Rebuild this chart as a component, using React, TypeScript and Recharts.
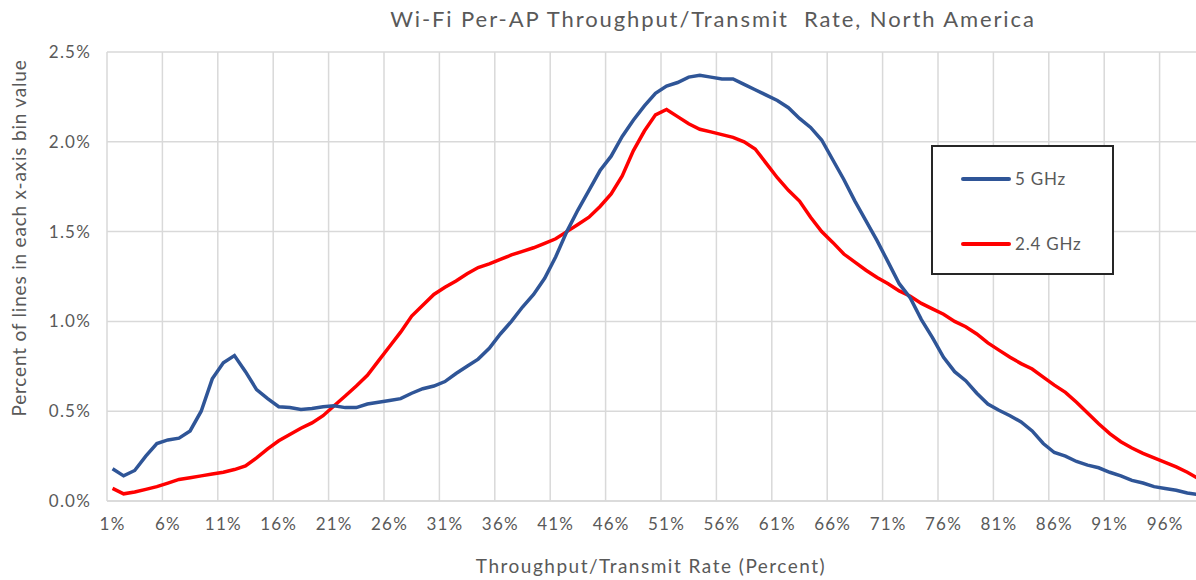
import { LineChart, Line, XAxis, YAxis, CartesianGrid, ReferenceLine } from "recharts";

// throughput/transmit rate bins (percent)
const rates = [
  1, 2, 3, 4, 5, 6, 7, 8, 9, 10, 11, 12, 13, 14, 15, 16, 17, 18, 19, 20,
  21, 22, 23, 24, 25, 26, 27, 28, 29, 30, 31, 32, 33, 34, 35, 36, 37, 38, 39, 40,
  41, 42, 43, 44, 45, 46, 47, 48, 49, 50, 51, 52, 53, 54, 55, 56, 57, 58, 59, 60,
  61, 62, 63, 64, 65, 66, 67, 68, 69, 70, 71, 72, 73, 74, 75, 76, 77, 78, 79, 80,
  81, 82, 83, 84, 85, 86, 87, 88, 89, 90, 91, 92, 93, 94, 95, 96, 97, 98, 99, 100,
];

// percent of lines in each bin
const ghz5 = [
  0.18, 0.14, 0.17, 0.25, 0.32, 0.34, 0.35, 0.39, 0.5, 0.68,
  0.77, 0.81, 0.72, 0.62, 0.57, 0.525, 0.52, 0.51, 0.515, 0.525,
  0.53, 0.52, 0.52, 0.54, 0.55, 0.56, 0.57, 0.6, 0.625, 0.64,
  0.665, 0.71, 0.75, 0.79, 0.85, 0.93, 1.0, 1.08, 1.15, 1.24,
  1.36, 1.5, 1.62, 1.73, 1.84, 1.92, 2.03, 2.12, 2.2, 2.27,
  2.31, 2.33, 2.36, 2.37, 2.36, 2.35, 2.35, 2.32, 2.29, 2.26,
  2.23, 2.19, 2.13, 2.08, 2.01, 1.9, 1.79, 1.67, 1.56, 1.45,
  1.33, 1.21, 1.13, 1.01, 0.91, 0.8, 0.72, 0.67, 0.6, 0.54,
  0.505, 0.475, 0.44, 0.39, 0.32, 0.27, 0.25, 0.22, 0.2, 0.185,
  0.16, 0.14, 0.115, 0.1, 0.08, 0.07, 0.06, 0.045, 0.035, 0.03,
];

const ghz24 = [
  0.07, 0.04, 0.05, 0.065, 0.08, 0.1, 0.12, 0.13, 0.14, 0.15,
  0.16, 0.175, 0.195, 0.24, 0.29, 0.335, 0.37, 0.405, 0.435, 0.475,
  0.53, 0.585, 0.64, 0.7, 0.78, 0.86, 0.94, 1.03, 1.09, 1.15,
  1.19, 1.225, 1.265, 1.3, 1.32, 1.345, 1.37, 1.39, 1.41, 1.435,
  1.46, 1.5, 1.54, 1.58, 1.64, 1.71, 1.81, 1.95, 2.06, 2.15,
  2.18, 2.14, 2.1, 2.07, 2.055, 2.04, 2.025, 2.0, 1.96, 1.88,
  1.8, 1.73, 1.67, 1.58, 1.5, 1.44, 1.375, 1.33, 1.285, 1.245,
  1.21, 1.17, 1.14, 1.1, 1.07, 1.04, 1.0, 0.97, 0.93, 0.88,
  0.84, 0.8, 0.765, 0.735, 0.69, 0.645, 0.605, 0.55, 0.49, 0.43,
  0.375, 0.33, 0.295, 0.265, 0.24, 0.215, 0.19, 0.16, 0.125, 0.1,
];

const xTicks = [1, 6, 11, 16, 21, 26, 31, 36, 41, 46, 51, 56, 61, 66, 71, 76, 81, 86, 91, 96];
const yTicks = [0, 0.5, 1.0, 1.5, 2.0, 2.5];

const BLUE = "#2F5597";
const RED = "#FF0000";
const GRID = "#D9D9D9";
const TEXT = "#595959";
const FONT = "Lato, 'Open Sans', sans-serif";

const data = rates.map((r, i) => ({ rate: r, g5: ghz5[i], g24: ghz24[i] }));

// excel draws category gridlines between the bins
const boundaries = [...xTicks.map((t) => t - 0.5), 100.5];

const tickStyle = { fill: TEXT, fontSize: 17, fontFamily: FONT, letterSpacing: 1.2 };

const LegendRow = ({ color, label, top }: { color: string; label: string; top: number }) => (
  <div style={{ position: "absolute", left: 28, top, display: "flex", alignItems: "center" }}>
    <div style={{ width: 50, height: 4, background: color, borderRadius: 2 }} />
    <span style={{ marginLeft: 4, fontSize: 17, letterSpacing: 0.8, color: TEXT }}>{label}</span>
  </div>
);

export default function App() {
  return (
    <div
      style={{
        position: "fixed",
        left: 0,
        top: 0,
        width: 1196,
        height: 580,
        overflow: "hidden",
        background: "#fff",
        fontFamily: FONT,
      }}
    >
      <div
        style={{
          position: "absolute",
          left: 0,
          width: 1426,
          top: 5,
          textAlign: "center",
          fontSize: 22,
          letterSpacing: 1.9,
          color: TEXT,
          whiteSpace: "pre",
        }}
      >
        {"Wi-Fi Per-AP Throughput/Transmit  Rate, North America"}
      </div>

      <LineChart
        width={1240}
        height={580}
        data={data}
        margin={{ top: 52, right: 25, bottom: 39, left: 0 }}
      >
        <CartesianGrid vertical={false} stroke={GRID} strokeWidth={1.5} />
        {boundaries.map((b) => (
          <ReferenceLine key={b} x={b} stroke={GRID} strokeWidth={1.5} />
        ))}
        <XAxis
          dataKey="rate"
          type="number"
          domain={[0.5, 100.5]}
          ticks={xTicks}
          interval={0}
          tickFormatter={(v) => `${v}%`}
          tickLine={false}
          axisLine={{ stroke: GRID, strokeWidth: 1.5 }}
          tickMargin={11}
          height={40}
          tick={tickStyle}
        />
        <YAxis
          domain={[0, 2.5]}
          ticks={yTicks}
          tickFormatter={(v) => `${v.toFixed(1)}%`}
          tickLine={false}
          axisLine={false}
          tickMargin={10}
          width={107}
          tick={tickStyle}
        />
        <Line
          type="linear"
          dataKey="g24"
          name="2.4 GHz"
          stroke={RED}
          strokeWidth={3.5}
          dot={false}
          isAnimationActive={false}
        />
        <Line
          type="linear"
          dataKey="g5"
          name="5 GHz"
          stroke={BLUE}
          strokeWidth={3.5}
          dot={false}
          isAnimationActive={false}
        />
      </LineChart>

      <div
        style={{
          position: "absolute",
          left: 18,
          top: 238,
          transform: "translate(-50%, -50%) rotate(-90deg)",
          fontSize: 19,
          letterSpacing: 0.8,
          color: TEXT,
          whiteSpace: "nowrap",
        }}
      >
        Percent of lines in each x-axis bin value
      </div>

      <div
        style={{
          position: "absolute",
          left: 651,
          top: 554,
          transform: "translateX(-50%)",
          fontSize: 19,
          letterSpacing: 1.5,
          color: TEXT,
          whiteSpace: "nowrap",
        }}
      >
        Throughput/Transmit Rate (Percent)
      </div>

      <div
        style={{
          position: "absolute",
          left: 931,
          top: 145,
          width: 183,
          height: 130,
          boxSizing: "border-box",
          border: "2px solid #262626",
          background: "#fff",
        }}
      >
        <LegendRow color={BLUE} label="5 GHz" top={21} />
        <LegendRow color={RED} label="2.4 GHz" top={86} />
      </div>
    </div>
  );
}
